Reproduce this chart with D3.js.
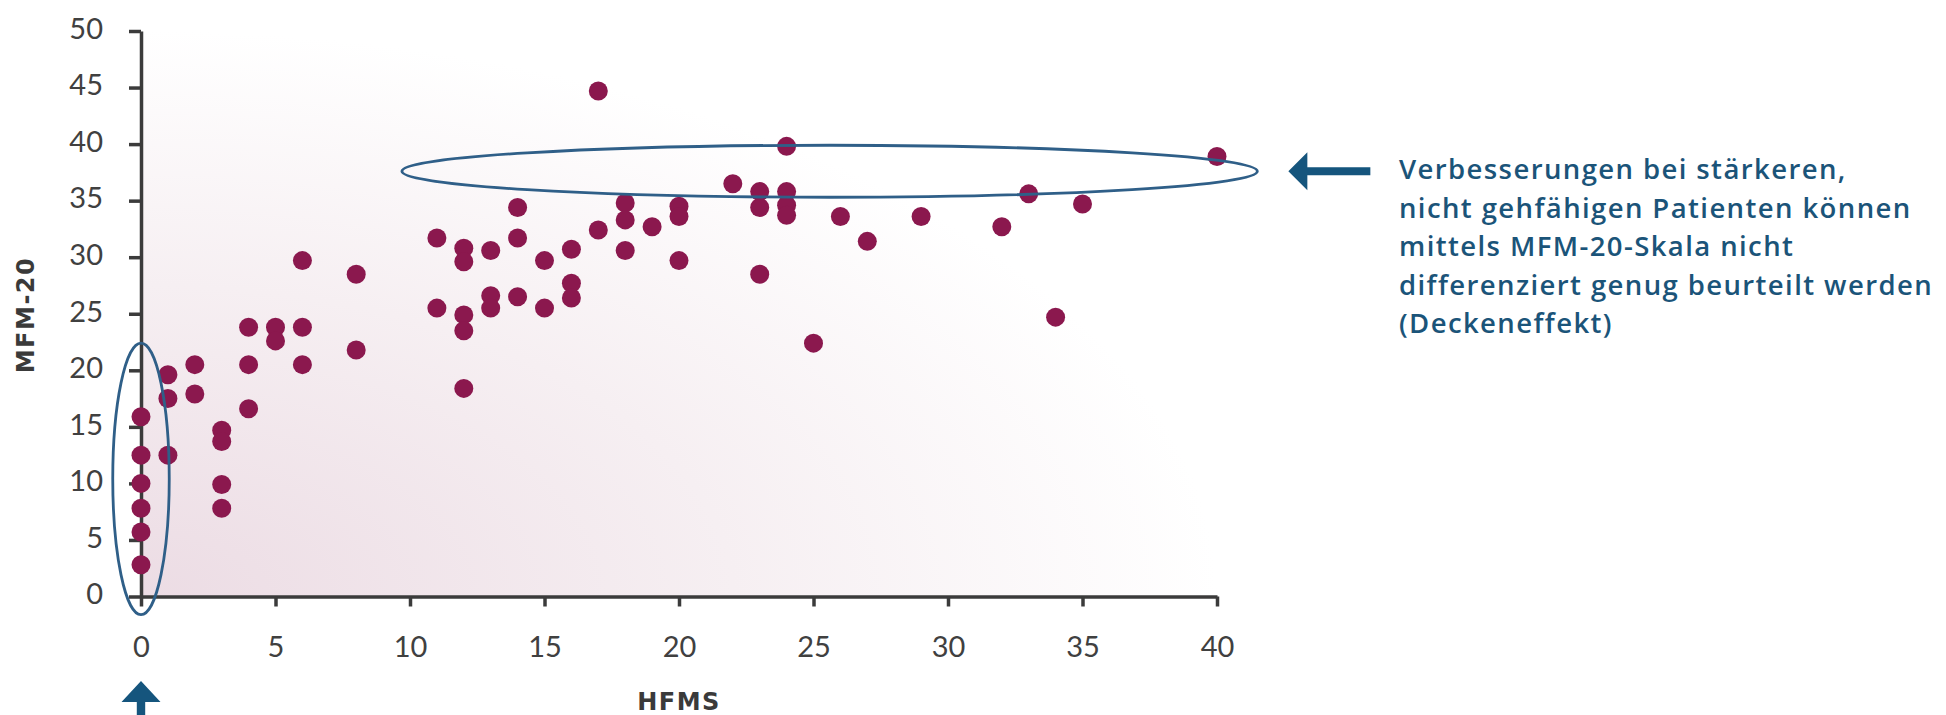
<!DOCTYPE html>
<html>
<head>
<meta charset="utf-8">
<script src="https://cdn.jsdelivr.net/npm/d3@7"></script>
<style>
  html, body { margin: 0; padding: 0; background: #ffffff; }
  svg { display: block; }
</style>
</head>
<body>
<svg id="chart" width="1946" height="715"></svg>
<script>
// ---- data ----
const hfms = [
  0, 0, 0, 0, 0, 0,
  1, 1, 1,
  2, 2,
  3, 3, 3, 3,
  4, 4, 4,
  5, 5,
  6, 6, 6,
  8, 8,
  11, 11,
  12, 12, 12, 12, 12,
  13, 13, 13,
  14, 14, 14,
  15, 15,
  16, 16, 16,
  17, 17,
  18, 18, 18,
  19,
  20, 20, 20,
  22,
  23, 23, 23,
  24, 24, 24, 24,
  25, 26, 27, 29, 32, 33, 34, 35, 40
];
const mfm20 = [
  15.9, 12.5, 10, 7.8, 5.7, 2.8,
  19.6, 17.5, 12.5,
  20.5, 17.9,
  14.7, 13.7, 9.9, 7.8,
  23.8, 20.5, 16.6,
  23.8, 22.6,
  29.7, 23.8, 20.5,
  28.5, 21.8,
  31.7, 25.5,
  30.8, 29.6, 24.9, 23.5, 18.4,
  30.6, 26.6, 25.5,
  34.4, 31.7, 26.5,
  29.7, 25.5,
  30.7, 27.7, 26.4,
  44.7, 32.4,
  34.8, 33.3, 30.6,
  32.7,
  34.5, 33.6, 29.7,
  36.5,
  35.8, 34.4, 28.5,
  39.8, 35.8, 34.6, 33.7,
  22.4, 33.6, 31.4, 33.6, 32.7, 35.6, 24.7, 34.7, 38.9
];
const xTicks = [0, 5, 10, 15, 20, 25, 30, 35, 40];
const yTicks = [0, 5, 10, 15, 20, 25, 30, 35, 40, 45, 50];
const xTitle = "HFMS";
const yTitle = "MFM-20";
// highlighted regions (data units): [cx, cy, rx, ry]
const floorEllipse = [0, 10.4, 1.05, 12.0];
const ceilingEllipse = [25.6, 37.6, 15.9, 2.3];
const noteLines = [
  "Verbesserungen bei stärkeren,",
  "nicht gehfähigen Patienten können",
  "mittels MFM-20-Skala nicht",
  "differenziert genug beurteilt werden",
  "(Deckeneffekt)"
];

// ---- layout ----
const svg = d3.select("#chart");
const x = d3.scaleLinear().domain([0, 40]).range([141, 1217]);
const y = d3.scaleLinear().domain([0, 50]).range([596.5, 31]);

// background gradient
const defs = svg.append("defs");
const grad = defs.append("radialGradient")
  .attr("id", "bg").attr("cx", 0).attr("cy", 1).attr("r", 1).attr("fx", 0).attr("fy", 1);
grad.append("stop").attr("offset", "0%").attr("stop-color", "#ecdce4");
grad.append("stop").attr("offset", "55%").attr("stop-color", "#f6eff2");
grad.append("stop").attr("offset", "100%").attr("stop-color", "#ffffff");

svg.append("rect")
  .attr("x", x(0)).attr("y", y(50))
  .attr("width", x(40) - x(0)).attr("height", y(0) - y(50))
  .attr("fill", "url(#bg)");

// axes
const axisColor = "#3b3b3b";
const gy = svg.append("g").attr("transform", `translate(${x(0)},0)`)
  .call(d3.axisLeft(y).tickValues(yTicks).tickSize(12).tickSizeOuter(0).tickPadding(26));
const gx = svg.append("g").attr("transform", `translate(0,${y(0)})`)
  .call(d3.axisBottom(x).tickValues(xTicks).tickSize(10).tickSizeOuter(0));

[gx, gy].forEach(g => {
  g.select(".domain").attr("stroke", axisColor).attr("stroke-width", 3.5);
  g.selectAll(".tick line").attr("stroke", axisColor).attr("stroke-width", 3.5);
  g.selectAll(".tick text")
    .attr("fill", "#404040")
    .style("font-family", "Lato, 'Open Sans', sans-serif")
    .style("font-weight", 400)
    .style("font-size", "29px");
});
gy.selectAll(".tick text").attr("dy", "0.25em");
gx.selectAll(".tick text").attr("y", 50).attr("dy", "0.36em");

// axis titles
svg.append("text")
  .attr("transform", `translate(34,315) rotate(-90)`)
  .attr("text-anchor", "middle")
  .attr("fill", "#3a3a3a")
  .style("font-family", "'DejaVu Sans', sans-serif")
  .style("font-weight", 700)
  .style("font-size", "24px")
  .style("letter-spacing", "1.5px")
  .text(yTitle);

svg.append("text")
  .attr("x", 679).attr("y", 710)
  .attr("text-anchor", "middle")
  .attr("fill", "#3a3a3a")
  .style("font-family", "'DejaVu Sans', sans-serif")
  .style("font-weight", 700)
  .style("font-size", "24px")
  .style("letter-spacing", "1.5px")
  .text(xTitle);

// points
svg.append("g").selectAll("circle")
  .data(hfms.map((h, i) => [h, mfm20[i]]))
  .join("circle")
  .attr("cx", d => x(d[0]))
  .attr("cy", d => y(d[1]))
  .attr("r", 9.5)
  .attr("fill", "#8b184e");

// ellipses
const blue = "#2f5f88";
[floorEllipse, ceilingEllipse].forEach(e => {
  svg.append("ellipse")
    .attr("cx", x(e[0])).attr("cy", y(e[1]))
    .attr("rx", x(e[2]) - x(0)).attr("ry", y(0) - y(e[3]))
    .attr("fill", "none")
    .attr("stroke", blue)
    .attr("stroke-width", 2.8);
});

// arrows
const arrowBlue = "#15557d";
// left-pointing arrow next to the ceiling ellipse
const ay = y(ceilingEllipse[1]);
const ax = x(ceilingEllipse[0] + ceilingEllipse[2]) + 31;
svg.append("path")
  .attr("d", `M${ax},${ay} L${ax + 19},${ay - 19} L${ax + 19},${ay - 4} L${ax + 82},${ay - 4} L${ax + 82},${ay + 4} L${ax + 19},${ay + 4} L${ax + 19},${ay + 19} Z`)
  .attr("fill", arrowBlue);
// up-pointing arrow below x = 0
const ux = x(0), uy = 681;
svg.append("path")
  .attr("d", `M${ux},${uy} L${ux + 19.5},${uy + 21} L${ux + 4.2},${uy + 21} L${ux + 4.2},715 L${ux - 4.2},715 L${ux - 4.2},${uy + 21} L${ux - 19.5},${uy + 21} Z`)
  .attr("fill", arrowBlue);

// annotation text
const note = svg.append("text")
  .attr("fill", "#1b5479")
  .style("font-family", "'Open Sans', sans-serif")
  .style("font-weight", 600)
  .style("font-size", "27.5px")
  .style("letter-spacing", "1.4px");
noteLines.forEach((t, i) => {
  note.append("tspan").attr("x", 1399).attr("y", 179 + i * 38.6).text(t);
});
</script>
</body>
</html>
